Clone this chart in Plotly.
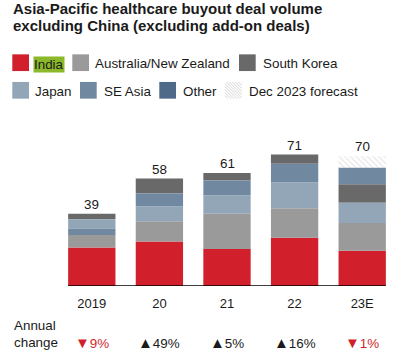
import plotly.graph_objects as go

# ---------------- data ----------------
years = ["2019", "20", "21", "22", "23E"]
india = [20.8, 24, 20, 26, 19]
aus_nz = [6.8, 11, 19, 16, 15]
south_korea = [3.0, 8, 4, 5, 10]
japan = [4.9, 8, 10, 14, 11]
se_asia = [3.5, 7, 8, 10, 9]
other = [0, 0, 0, 0, 0]
forecast = [0, 0, 0, 0, 6]
totals = [39, 58, 61, 71, 70]
annual_change = [-9, 49, 5, 16, -1]

series = {
    "India": india,
    "Australia/New Zealand": aus_nz,
    "South Korea": south_korea,
    "Japan": japan,
    "SE Asia": se_asia,
    "Other": other,
    "Dec 2023 forecast": forecast,
}
# stacking order (bottom -> top) for each year
stack_order = [
    ["India", "Australia/New Zealand", "SE Asia", "Japan", "South Korea", "Other", "Dec 2023 forecast"],
    ["India", "Australia/New Zealand", "Japan", "SE Asia", "South Korea", "Other", "Dec 2023 forecast"],
    ["India", "Australia/New Zealand", "Japan", "SE Asia", "South Korea", "Other", "Dec 2023 forecast"],
    ["India", "Australia/New Zealand", "Japan", "SE Asia", "South Korea", "Other", "Dec 2023 forecast"],
    ["India", "Australia/New Zealand", "Japan", "South Korea", "SE Asia", "Other", "Dec 2023 forecast"],
]

colors = {
    "India": "#d11f2b",
    "Australia/New Zealand": "#9a9a9a",
    "South Korea": "#696969",
    "Japan": "#93a6b8",
    "SE Asia": "#7089a1",
    "Other": "#4e6a88",
    "Dec 2023 forecast": "#ffffff",
}

FONT = "Liberation Sans, Arial, sans-serif"
TXT = "#1a1a1a"
RED = "#d11f2b"

W, H = 396, 358
ML, MR, MT, MB = 58, 0, 130, 72
PW = W - ML - MR
PH = H - MT - MB
YMAX = PH / 1.852


def px(X):
    return (X - ML) / PW


def py(Y):
    return (H - MB - Y) / PH


# compute bases
bases = {k: [0] * len(years) for k in series}
for i, order in enumerate(stack_order):
    acc = 0
    for name in order:
        bases[name][i] = acc
        acc += series[name][i]

xs = list(range(len(years)))
fig = go.Figure()
for name, vals in series.items():
    marker = dict(color=colors[name], line=dict(width=0))
    if name == "Dec 2023 forecast":
        marker["pattern"] = dict(shape="\\", fgcolor="#cdcdcd", bgcolor="#ffffff",
                                 size=4, solidity=0.3)
    fig.add_trace(go.Bar(x=xs, y=vals, base=bases[name], name=name, width=0.7,
                         marker=marker, showlegend=False))

annotations = []
# totals
for i, t in enumerate(totals):
    annotations.append(dict(x=i, y=t, xref="x", yref="y", text=str(t), showarrow=False,
                            yanchor="bottom", yshift=0,
                            font=dict(family=FONT, size=13.4, color=TXT)))
# annual change
for i, c in enumerate(annual_change):
    col = RED if c < 0 else TXT
    tri = "\u25BC" if c < 0 else "\u25B2"
    txt = (f"<span style='color:{col};font-size:15px'>{tri}</span>"
           f"<span style='color:{col}'>{abs(c)}%</span>")
    annotations.append(dict(x=i, y=py(342), xref="x", yref="paper", text=txt, showarrow=False,
                            yanchor="middle", font=dict(family=FONT, size=13.4, color=TXT)))
annotations.append(dict(x=px(12), y=py(325.5), xref="paper", yref="paper", text="Annual",
                        showarrow=False, xanchor="left", yanchor="middle",
                        font=dict(family=FONT, size=13.4, color=TXT)))
annotations.append(dict(x=px(12), y=py(342), xref="paper", yref="paper", text="change",
                        showarrow=False, xanchor="left", yanchor="middle",
                        font=dict(family=FONT, size=13.4, color=TXT)))
# title
for txt, yc in [("Asia-Pacific healthcare buyout deal volume", 8.5),
                ("excluding China (excluding add-on deals)", 25.5)]:
    annotations.append(dict(x=px(11), y=py(yc), xref="paper", yref="paper", text=f"<b>{txt}</b>",
                            showarrow=False, xanchor="left", yanchor="middle",
                            font=dict(family=FONT, size=15, color=TXT)))

# manual legend
shapes = []
legend_items = [
    ("India", 12.3, 62.7, 33.3),
    ("Australia/New Zealand", 72.3, 62.7, 93.3),
    ("South Korea", 239, 62.7, 260.7),
    ("Japan", 12.3, 90.3, 33.3),
    ("SE Asia", 80, 90.3, 101.7),
    ("Other", 159.3, 90.3, 181),
    ("Dec 2023 forecast", 225, 90.3, 246.7),
]
S = 16.7
for name, sx, cy, tx in legend_items:
    if name == "Dec 2023 forecast":
        shapes.append(dict(type="rect", xref="paper", yref="paper", x0=px(sx), x1=px(sx + S),
                           y0=py(cy - S / 2), y1=py(cy + S / 2), fillcolor="#ffffff",
                           line=dict(width=0), layer="above"))
        step = 3.0
        k = -S
        top = cy - S / 2
        while k < S:
            x_a, x_b = max(0, k), min(S, S + k)
            if x_b > x_a:
                X0, Y0 = sx + x_a, top + (x_a - k)
                X1, Y1 = sx + x_b, top + (x_b - k)
                shapes.append(dict(type="line", xref="paper", yref="paper", x0=px(X0), y0=py(Y0),
                                   x1=px(X1), y1=py(Y1), line=dict(color="#d4d4d4", width=1),
                                   layer="above"))
            k += step
    else:
        shapes.append(dict(type="rect", xref="paper", yref="paper", x0=px(sx), x1=px(sx + S),
                           y0=py(cy - S / 2), y1=py(cy + S / 2), fillcolor=colors[name],
                           line=dict(width=0), layer="above"))
    if name == "India":
        annotations.append(dict(x=px(tx - 0.6), y=py(cy + 1.5), xref="paper", yref="paper",
                                text=name, showarrow=False, xanchor="left", yanchor="middle",
                                bgcolor="#8cb82b", borderpad=0,
                                font=dict(family=FONT, size=13.4, color=TXT)))
    else:
        annotations.append(dict(x=px(tx), y=py(cy + 1), xref="paper", yref="paper",
                                text=name, showarrow=False, xanchor="left", yanchor="middle",
                                font=dict(family=FONT, size=13.4, color=TXT)))

# axis baseline
shapes.append(dict(type="line", xref="x", yref="y", x0=-0.35, x1=len(years) - 1 + 0.35,
                   y0=0, y1=0, line=dict(color="#000000", width=1.5), layer="above"))

fig.update_layout(
    width=W, height=H,
    margin=dict(l=ML, r=MR, t=MT, b=MB),
    barmode="overlay",
    plot_bgcolor="#ffffff", paper_bgcolor="#ffffff",
    font=dict(family=FONT, color=TXT),
    xaxis=dict(range=[-0.5, len(years) - 0.5], tickvals=xs, ticktext=years, showgrid=False,
               zeroline=False, showline=False, ticks="", fixedrange=True,
               ticklabelstandoff=8,
               tickfont=dict(family=FONT, size=13, color=TXT)),
    yaxis=dict(range=[0, YMAX], visible=False, fixedrange=True),
    annotations=annotations,
    shapes=shapes,
    showlegend=False,
)

fig.write_html("out.html", config={"displayModeBar": False},
               post_script="document.body.style.margin='0';")
